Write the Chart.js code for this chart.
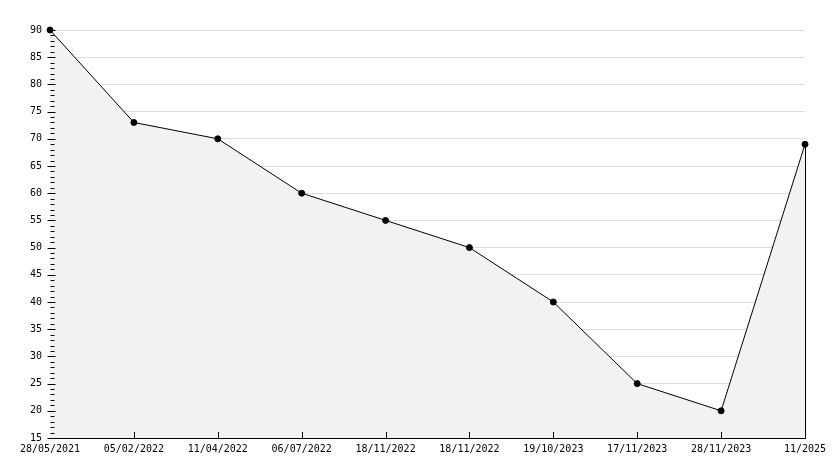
<!DOCTYPE html>
<html><head><meta charset="utf-8">
<script src="https://cdn.jsdelivr.net/npm/chart.js@4/dist/chart.umd.min.js"></script>
<style>html,body{margin:0;padding:0;background:#fff}canvas{display:block}</style>
</head><body>
<canvas id="c" width="834" height="468"></canvas>
<script>
const categories = ["28/05/2021","05/02/2022","11/04/2022","06/07/2022","18/11/2022","18/11/2022","19/10/2023","17/11/2023","28/11/2023","11/2025"];
const values = [90,73,70,60,55,50,40,25,20,69];
const yMin = 15, yMax = 90, yStep = 5;

const decor = {
  id: 'decor',
  afterDraw(chart) {
    const ctx = chart.ctx, a = chart.chartArea;
    const ys = chart.scales.y, xs = chart.scales.x;
    ctx.save();
    ctx.strokeStyle = '#000'; ctx.lineWidth = 1;
    ctx.beginPath();
    for (let v = yMin; v <= yMax; v++) {
      const py = Math.round(ys.getPixelForValue(v)) + 0.5;
      const x0 = Math.round(a.left) + 0.5;
      if (v % yStep === 0) { ctx.moveTo(x0 - 3, py); ctx.lineTo(x0 + 5, py); }
      else { ctx.moveTo(x0, py); ctx.lineTo(x0 + 4, py); }
    }
    for (let i = 1; i < categories.length - 1; i++) {
      const px = Math.round(xs.getPixelForValue(i)) + 0.5;
      const b = Math.round(a.bottom);
      ctx.moveTo(px, b); ctx.lineTo(px, b - 6);
    }
    const meta = chart.getDatasetMeta(0);
    const last = meta.data[meta.data.length - 1];
    const lx = Math.round(last.x) + 0.5;
    ctx.moveTo(lx, last.y); ctx.lineTo(lx, a.bottom);
    ctx.stroke();
    ctx.restore();
  }
};

new Chart(document.getElementById('c'), {
  type: 'line',
  data: {
    labels: categories,
    datasets: [{
      data: values,
      clip: false,
      borderColor: '#000',
      borderWidth: 1,
      backgroundColor: '#f2f2f2',
      fill: 'start',
      tension: 0,
      pointRadius: 3,
      pointBackgroundColor: '#000',
      pointBorderColor: '#000',
      pointBorderWidth: 1
    }]
  },
  options: {
    responsive: false,
    animation: false,
    devicePixelRatio: 1,
    layout: { padding: { top: 30, right: 29, left: 0, bottom: 0 } },
    plugins: { legend: { display: false }, tooltip: { enabled: false } },
    scales: {
      x: {
        offset: false,
        grid: { display: false, drawTicks: false },
        border: { color: '#000', width: 1 },
        ticks: { color: '#000', font: { family: 'DejaVu Sans Mono', size: 10 }, padding: 5, maxRotation: 0, autoSkip: false },
        afterFit(s) { s.height = 30; }
      },
      y: {
        min: yMin, max: yMax,
        grid: { color: '#dddddd', drawTicks: false },
        border: { color: '#000', width: 1 },
        ticks: { stepSize: yStep, color: '#000', font: { family: 'DejaVu Sans Mono', size: 10 }, padding: 8 },
        afterFit(s) { s.width = 50; }
      }
    }
  },
  plugins: [decor]
});
</script>
</body></html>
